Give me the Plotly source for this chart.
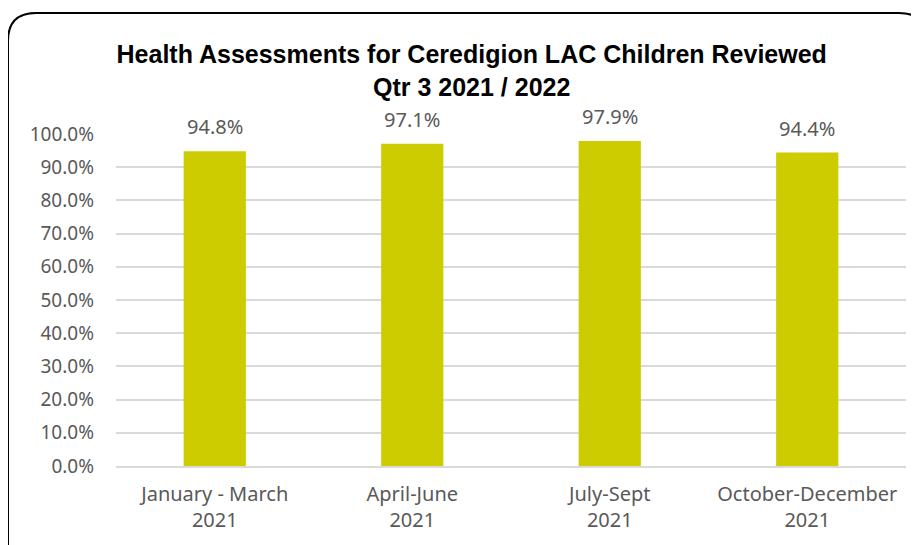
import plotly.graph_objects as go

categories = ["January - March<br>2021", "April-June<br>2021", "July-Sept<br>2021", "October-December<br>2021"]
values = [0.948, 0.971, 0.979, 0.944]
labels = ["94.8%", "97.1%", "97.9%", "94.4%"]
title_lines = ["Health Assessments for Ceredigion LAC Children Reviewed", "Qtr 3 2021 / 2022"]

# page body has an 8px margin, so the figure is drawn 8px smaller and shifted
W, H = 911, 537
L, R, T, B = 108, 13, 126, 79
pw, ph = W - L - R, H - T - B

def px(x):
    return (x - 8 - L) / pw

def py(y):
    return (H - B - (y - 8)) / ph

FONT = "Noto Sans, Open Sans, sans-serif"

fig = go.Figure()
fig.add_trace(go.Bar(x=categories, y=values, marker=dict(color="#CCCC00", line=dict(width=0)),
                     hoverinfo="skip"))

for c, v, t in zip(categories, values, labels):
    fig.add_annotation(x=c, y=v, text=t, showarrow=False, yanchor="bottom", yshift=9,
                       font=dict(family=FONT, size=20, color="#595959"))

# rounded border
x0, x1, y0, y1 = px(8), px(927), py(552), py(13)
rx, ry = 28 / pw, 28 / ph
path = (f"M {x0} {y0} L {x0} {y1 - ry} Q {x0} {y1} {x0 + rx} {y1} "
        f"L {x1 - rx} {y1} Q {x1} {y1} {x1} {y1 - ry} L {x1} {y0} Z")
fig.add_shape(type="path", path=path, xref="paper", yref="paper",
              line=dict(color="#000000", width=2), layer="below")

fig.update_layout(
    width=W, height=H,
    margin=dict(l=L, r=R, t=T, b=B),
    paper_bgcolor="white", plot_bgcolor="white",
    bargap=0.685,
    showlegend=False,
    title=dict(text="<br>".join(title_lines), x=0.509, xanchor="center",
               yref="container", y=0.897, yanchor="top",
               font=dict(family="Liberation Sans, Arial, sans-serif", size=25, color="#000000", weight="bold")),
)
fig.update_yaxes(range=[0, 1.0], dtick=0.1, tickformat=".1%",
                 gridcolor="#d9d9d9", gridwidth=1.5, zeroline=False,
                 showline=False, ticks="", ticklabelstandoff=21,
                 tickfont=dict(family=FONT, size=19, color="#595959"))
fig.update_xaxes(showline=True, linecolor="#d9d9d9", linewidth=1.5, ticks="",
                 ticklabelstandoff=9,
                 tickfont=dict(family=FONT, size=20, color="#595959"))

fig.write_html("out.html")
